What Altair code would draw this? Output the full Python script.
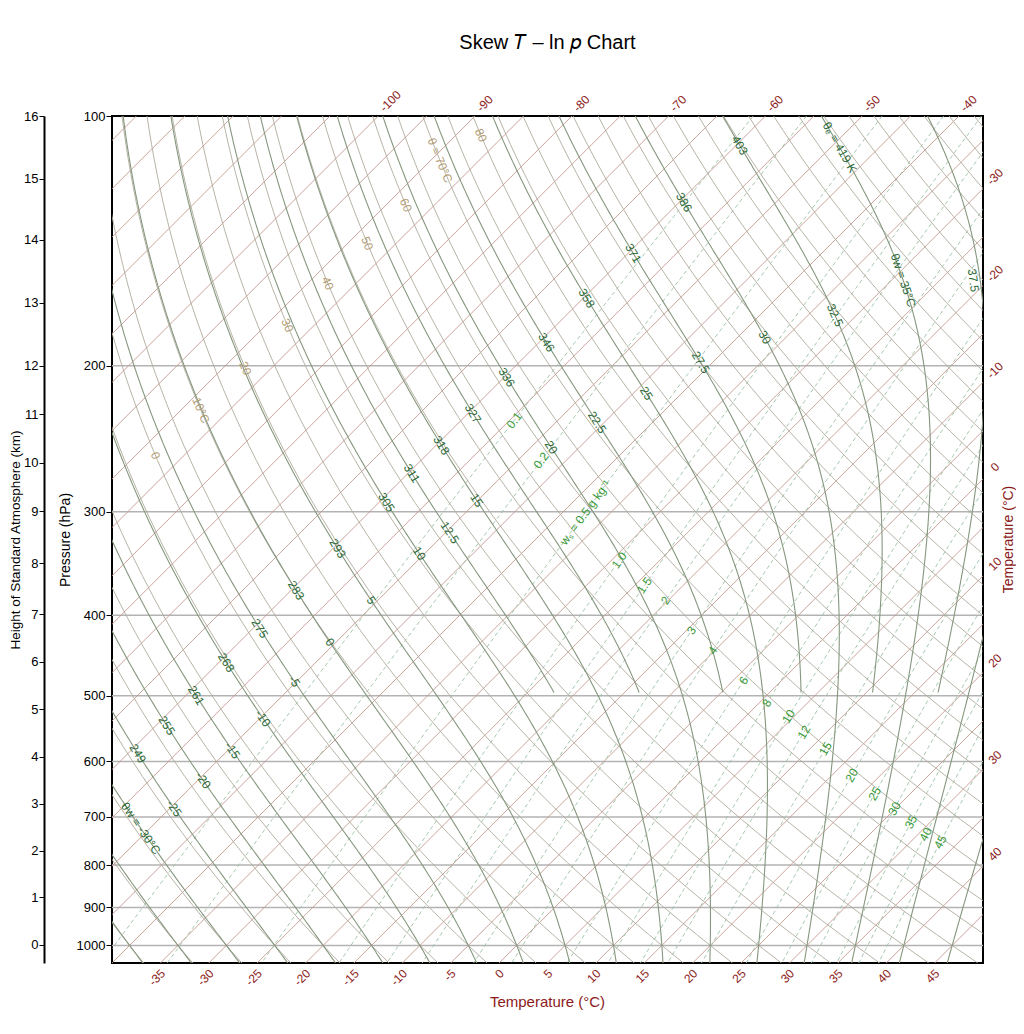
import math
import numpy as np
import pandas as pd
import altair as alt

# ---------------- values ----------------
PRESSURE_TICKS = [100, 200, 300, 400, 500, 600, 700, 800, 900, 1000]
ISOBARS = [200, 300, 400, 500, 600, 700, 800, 900, 1000]
HEIGHT_KM = [0, 1, 2, 3, 4, 5, 6, 7, 8, 9, 10, 11, 12, 13, 14, 15, 16]
HEIGHT_AT_P = [998, 875, 769, 675, 592, 519, 455, 399, 346, 299.5, 262, 229, 200, 168, 141, 119, 100]
BOTTOM_T = [-35, -30, -25, -20, -15, -10, -5, 0, 5, 10, 15, 20, 25, 30, 35, 40, 45]
TOP_T = [-100, -90, -80, -70, -60, -50, -40]
RIGHT_T = [-30, -20, -10, 0, 10, 20, 30, 40]

ISOTHERMS = [-130, -125, -120, -115, -110, -105, -100, -95, -90, -85, -80, -75, -70, -65, -60,
             -55, -50, -45, -40, -35, -30, -25, -20, -15, -10, -5, 0, 5, 10, 15, 20, 25, 30,
             35, 40, 45, 50]
DRY_THETA = [-45, -40, -35, -30, -25, -20, -15, -10, -5, 0, 5, 10, 15, 20, 25, 30, 35, 40, 45,
             50, 55, 60, 65, 70, 75, 80, 85, 90, 95, 100, 105, 110, 115, 120, 125, 130, 135,
             140, 145, 150, 155, 160, 165, 170, 175, 180, 185, 190]
MOIST_FULL = [-40, -35, -30, -25, -20, -15, -10, -5, 0, 5, 10, 15, 20, 25, 30, 35, 40, 45]
MOIST_UPPER = [12.5, 17.5, 22.5, 27.5, 32.5, 37.5]      # drawn from 500 hPa upward
MIXING = [0.1, 0.2, 0.5, 1.0, 1.5, 2, 3, 4, 6, 8, 10, 12, 15, 20, 25, 30, 35, 40, 45]

DRY_LABEL_THETA = [0, 10, 20, 30, 40, 50, 60, 70, 80]
DRY_LABEL_TEXT = ["0", "10°C", "20", "30", "40", "50", "60", "θ = 70°C", "80"]
DRY_LABEL_P = [256.6, 226.4, 201.5, 178.8, 159.1, 142.4, 128.1, 113.1, 105.5]

TW_LABEL_THETA = [-30, -25, -20, -15, -10, -5, 0, 5, 10, 12.5, 15, 20, 22.5, 25, 27.5, 30, 32.5, 35, 37.5]
TW_LABEL_TEXT = ["θw = -30°C", "-25", "-20", "-15", "-10", "-5", "0", "5", "10", "12.5", "15",
                 "20", "22.5", "25", "27.5", "30", "32.5", "θw = 35°C", "37.5"]
TW_LABEL_P = [722.6, 683.6, 632.4, 582.0, 532.4, 480.5, 431.1, 383.7, 336.8, 317.8, 290.7,
              250.9, 234.1, 216.0, 198.2, 184.9, 173.9, 157.8, 157.8]

TE_LABEL_THETA = [-25, -20, -15, -10, -5, 0, 5, 10, 12.5, 15, 17.5, 20, 22.5, 25, 27.5, 30, 32.5, 35]
TE_LABEL_TEXT = ["249", "255", "261", "268", "275", "283", "293", "305", "311", "318", "327",
                 "336", "346", "358", "371", "386", "403", "θₑ = 419 K"]
TE_LABEL_P = [586.9, 543.0, 499.6, 455.9, 414.8, 373.2, 332.2, 292.3, 269.7, 249.5, 228.4,
              206.6, 187.5, 165.9, 146.4, 127.1, 108.5, 109.1]

MIX_LABEL_TEXT = ["0.1", "0.2", "wₛ = 0.5 g kg⁻¹", "1.0", "1.5", "2", "3", "4", "6", "8", "10",
                  "12", "15", "20", "25", "30", "35", "40", "45"]
MIX_LABEL_P = [232.8, 260.2, 300.7, 343.4, 368.1, 383.7, 417.1, 440.9, 479.2, 510.4, 529.6,
               553.2, 579.1, 623.7, 656.2, 684.1, 710.0, 734.7, 750.5]

# ---------------- geometry / thermodynamics ----------------
W, H = 871, 847
P_BOT, P_TOP = 1050.0, 100.0
X_MIN, X_MAX = -40.0, 50.0
SKEW = (H / math.log10(P_BOT / P_TOP)) / (W / (X_MAX - X_MIN))   # 45 degree isotherms
RD, CPD, LV, EPS, KAPPA = 287.04, 1005.7, 2.501e6, 0.622, 0.2857


def skewx(T, p):
    return T + SKEW * np.log10(P_BOT / np.asarray(p, dtype=float))


def es(tc):
    return 6.112 * np.exp(17.67 * tc / (tc + 243.5))


def dT_dlnp(T, p):
    e = es(T - 273.15)
    r = EPS * e / p
    return (RD * T + LV * r) / (CPD + LV * LV * r * EPS / (RD * T * T))


def moist_curve(tw):
    res = []
    for target, n in ((P_TOP, 200), (P_BOT, 8)):
        T = tw + 273.15
        lp = math.log(1000.0)
        h = (math.log(target) - lp) / n
        pts = [(1000.0, T)]
        for _ in range(n):
            k1 = dT_dlnp(T, math.exp(lp))
            k2 = dT_dlnp(T + h * k1 / 2, math.exp(lp + h / 2))
            k3 = dT_dlnp(T + h * k2 / 2, math.exp(lp + h / 2))
            k4 = dT_dlnp(T + h * k3, math.exp(lp + h))
            T += h * (k1 + 2 * k2 + 2 * k3 + k4) / 6
            lp += h
            pts.append((math.exp(lp), T))
        res.append(pts)
    pts = sorted(res[0] + res[1][1:], key=lambda t: t[0])   # ascending p
    p = np.array([a for a, _ in pts])
    tc = np.array([b for _, b in pts]) - 273.15
    return p, tc


def dry_T(theta_c, p):
    return (theta_c + 273.15) * (np.asarray(p) / 1000.0) ** KAPPA - 273.15


def mix_T(w_gkg, p):
    w = w_gkg / 1000.0
    e = w * np.asarray(p) / (EPS + w)
    l = np.log(e / 6.112)
    return 243.5 * l / (17.67 - l)


def to_px(X, p):
    return ((X - X_MIN) / (X_MAX - X_MIN) * W,
            math.log10(p / P_TOP) / math.log10(P_BOT / P_TOP) * H)


def angle_of(fn, p):
    p1, p2 = p / 1.03, p * 1.03
    x1, y1 = to_px(float(skewx(fn(p1), p1)), p1)
    x2, y2 = to_px(float(skewx(fn(p2), p2)), p2)
    dx, dy = x2 - x1, y2 - y1
    if dx < 0 and abs(dx) > 0.15 * abs(dy):
        dx, dy = -dx, -dy
    return math.degrees(math.atan2(dy, dx)) % 360


P_GRID = np.logspace(math.log10(P_TOP), math.log10(P_BOT), 60)

rows = []
for T in ISOTHERMS:
    for i, p in enumerate([P_BOT, P_TOP]):
        rows.append(dict(id=f"T{T}", i=i, p=p, X=float(skewx(T, p))))
iso_df = pd.DataFrame(rows)

rows = []
for th in DRY_THETA:
    for i, p in enumerate(P_GRID):
        rows.append(dict(id=f"D{th}", i=i, p=float(p), X=float(skewx(dry_T(th, p), p))))
dry_df = pd.DataFrame(rows)

rows = []
moist_cache = {}
for tw in MOIST_FULL + MOIST_UPPER:
    p, tc = moist_curve(tw)
    moist_cache[tw] = (p, tc)
    lim = 500.0 if tw in MOIST_UPPER else P_BOT
    for i, (pp, tt) in enumerate(zip(p, tc)):
        if pp <= lim + 1e-6:
            rows.append(dict(id=f"M{tw}", i=i, p=float(pp), X=float(skewx(tt, pp))))
moist_df = pd.DataFrame(rows)

rows = []
for w in MIXING:
    for i, p in enumerate(P_GRID):
        rows.append(dict(id=f"W{w}", i=i, p=float(p), X=float(skewx(mix_T(w, p), p))))
mix_df = pd.DataFrame(rows)


def moist_fn(tw):
    p, tc = moist_cache[tw] if tw in moist_cache else moist_curve(tw)
    lp = np.log(p)
    return lambda q: float(np.interp(math.log(q), lp, tc))


def label_rows(values, texts, pressures, fn_maker):
    out = []
    for v, t, p in zip(values, texts, pressures):
        fn = fn_maker(v)
        X = float(skewx(fn(p), p))
        out.append(dict(text=t, p=p, X=min(X, X_MAX - 1.0), ang=angle_of(fn, p)))
    return pd.DataFrame(out)


dry_lab = label_rows(DRY_LABEL_THETA, DRY_LABEL_TEXT, DRY_LABEL_P,
                     lambda th: (lambda q: float(dry_T(th, q))))
tw_lab = label_rows(TW_LABEL_THETA, TW_LABEL_TEXT, TW_LABEL_P, moist_fn)
te_lab = label_rows(TE_LABEL_THETA, TE_LABEL_TEXT, TE_LABEL_P, moist_fn)
mix_lab = label_rows(MIXING, MIX_LABEL_TEXT, MIX_LABEL_P,
                     lambda w: (lambda q: float(mix_T(w, q))))

top_lab = pd.DataFrame(dict(text=[str(t) for t in TOP_T], p=P_TOP,
                            X=[float(skewx(t, P_TOP)) for t in TOP_T]))
right_lab = pd.DataFrame(dict(text=[str(t) for t in RIGHT_T], X=X_MAX,
                              p=[P_BOT * 10 ** (-(X_MAX - t) / SKEW) for t in RIGHT_T]))
bottom_lab = pd.DataFrame(dict(text=[str(t) for t in BOTTOM_T], X=BOTTOM_T, p=P_BOT))
height_df = pd.DataFrame(dict(p=HEIGHT_AT_P, km=HEIGHT_KM))

# ---------------- chart ----------------
FONT = "Liberation Sans"
RED = "#8b1a1a"
xs = alt.Scale(domain=[X_MIN, X_MAX], nice=False, zero=False)
ys = alt.Scale(type="log", domain=[P_TOP, P_BOT], reverse=True, nice=False)

height_expr = "[" + ",".join(f"'{k}'" for k in HEIGHT_KM) + "][indexof([" + \
    ",".join(str(v) for v in HEIGHT_AT_P) + "], datum.value)]"

pressure_axis = alt.Axis(values=PRESSURE_TICKS, orient="left", grid=False, domain=False,
                         format="d", ticks=True, tickSize=6, tickColor="black",
                         labelColor="black", labelFontSize=13, labelFont=FONT, labelPadding=1,
                         title="Pressure (hPa)", titleFont=FONT, titleFontSize=14,
                         titleFontWeight="normal", titleColor="black", titlePadding=4)
height_axis = alt.Axis(values=HEIGHT_AT_P, orient="left", offset=68, grid=False, domain=True,
                       domainColor="black", domainWidth=2, ticks=True, tickSize=5,
                       tickColor="black", labelColor="black", labelFontSize=13,
                       labelFont=FONT, labelPadding=1, labelExpr=height_expr,
                       title="Height of Standard Atmosphere (km)", titleFont=FONT,
                       titleFontSize=13.5, titleFontWeight="normal", titleColor="black",
                       titlePadding=1)


def xy(axis_y=None):
    return dict(x=alt.X("X:Q", scale=xs, axis=None),
                y=alt.Y("p:Q", scale=ys, axis=axis_y))


isobar_layer = alt.Chart(pd.DataFrame({"p": ISOBARS})).mark_rule(
    color="#b3b3b3", strokeWidth=1.5).encode(
    y=alt.Y("p:Q", scale=ys, axis=pressure_axis))

height_layer = alt.Chart(height_df).mark_rule(opacity=0).encode(
    y=alt.Y("p:Q", scale=ys, axis=height_axis))

iso_layer = alt.Chart(iso_df).mark_line(clip=True, color="#c49a90", strokeWidth=0.9).encode(
    detail="id:N", order="i:Q", **xy())

mix_layer = alt.Chart(mix_df).mark_line(clip=True, color="#9cc2a6", strokeWidth=0.9,
                                        strokeDash=[4, 3]).encode(
    detail="id:N", order="i:Q", **xy())

dry_layer = alt.Chart(dry_df).mark_line(clip=True, color="#b0aa9c", strokeWidth=0.9).encode(
    detail="id:N", order="i:Q", **xy())

moist_layer = alt.Chart(moist_df).mark_line(clip=True, color="#86977f", strokeWidth=1.1).encode(
    detail="id:N", order="i:Q", **xy())


def text_layer(df, color, size=12):
    return alt.Chart(df).mark_text(align="center", baseline="middle", font=FONT,
                                   fontSize=size, color=color).encode(
        text="text:N", angle=alt.Angle("ang:Q", scale=None), **xy())


dry_text = text_layer(dry_lab, "#b39c74", 12)
tw_text = text_layer(tw_lab, "#2d6a38")
te_text = text_layer(te_lab, "#2d6a38")
mix_text = text_layer(mix_lab, "#3a9a3a")

top_text = alt.Chart(top_lab).mark_text(align="left", baseline="middle", angle=315, dx=7, dy=-2,
                                        font=FONT, fontSize=12, color=RED).encode(
    text="text:N", **xy())
right_text = alt.Chart(right_lab).mark_text(align="center", baseline="middle", angle=315, dx=17,
                                            font=FONT, fontSize=12, color=RED).encode(
    text="text:N", **xy())
bottom_text = alt.Chart(bottom_lab).mark_text(align="right", baseline="middle", angle=315,
                                              dx=-4, dy=8, font=FONT, fontSize=12,
                                              color=RED).encode(text="text:N", **xy())
right_title = alt.Chart(pd.DataFrame({"p": [math.sqrt(P_TOP * P_BOT)], "X": [X_MAX],
                                      "text": ["Temperature (°C)"]})).mark_text(
    align="center", baseline="middle", angle=270, dy=26, font=FONT, fontSize=14,
    color=RED).encode(text="text:N", **xy())
bottom_title = alt.Chart(pd.DataFrame({"p": [P_BOT], "X": [(X_MIN + X_MAX) / 2],
                                       "text": ["Temperature (°C)"]})).mark_text(
    align="center", baseline="middle", dy=39, font=FONT, fontSize=15,
    color=RED).encode(text="text:N", **xy())

chart = alt.layer(
    isobar_layer, height_layer, iso_layer, mix_layer, dry_layer, moist_layer,
    dry_text, tw_text, te_text, mix_text, top_text, right_text, bottom_text,
    right_title, bottom_title
).resolve_axis(y="independent").properties(
    width=W, height=H,
    title=alt.TitleParams("Skew 𝑇 – ln 𝑝 Chart", font=FONT, fontSize=20, fontWeight="normal",
                          color="black", anchor="middle", offset=35),
    autosize=alt.AutoSizeParams(type="none"),
    padding={"left": 104, "top": 108, "right": 33, "bottom": 60},
).configure_view(stroke="black", strokeWidth=2)

chart.save("out.html", embed_options={"renderer": "svg", "actions": False})
